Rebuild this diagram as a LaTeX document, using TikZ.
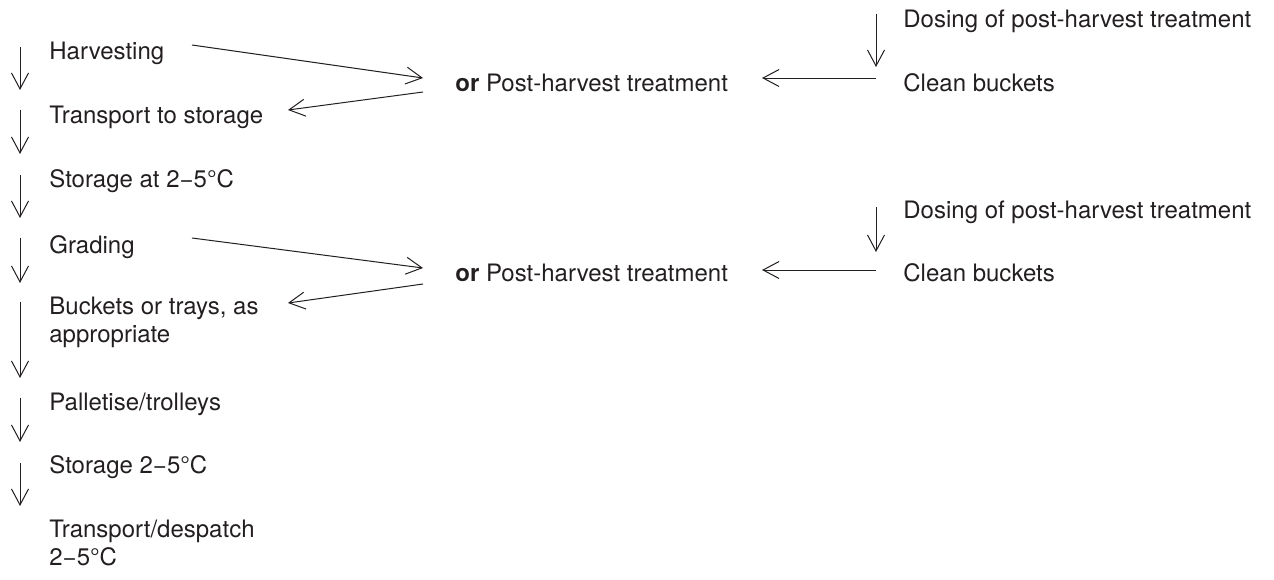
\documentclass[tikz,border=0pt]{standalone}
\usepackage{fontspec}
\setmainfont{TeX Gyre Heros}
\usetikzlibrary{arrows.meta}
\definecolor{ink}{RGB}{35,31,32}
\newcommand{\rng}{2\symbol{"2212}5°C}
\begin{document}
\begin{tikzpicture}[x=0.5pt,y=-0.5pt,
  lbl/.style={anchor=base west,inner sep=0pt,align=left,text=ink,
    font=\fontsize{12}{13.75}\selectfont},
  arr/.style={draw=ink,line width=0.5pt,-{Straight Barb[length=8pt,width=8.5pt,line width=0.5pt]}}]
\useasboundingbox (0,0) rectangle (1274,579);
% left column
\node[lbl] (harv) at (49,59) {Harvesting};
\node[lbl] (trans) at (49,123) {Transport to storage};
\node[lbl] (stor1) at (49,187) {Storage at \rng};
\node[lbl] (grad) at (49,253) {Grading};
\node[lbl] (buck) at (49,342) {Buckets or trays, as\\appropriate};
\node[lbl] (pall) at (49,410) {Palletise/trolleys};
\node[lbl] (stor2) at (49,473) {Storage \rng};
\node[lbl] (desp) at (49,565) {Transport/despatch\\\rng};
% middle
\node[lbl] (pht1) at (455,91) {\textbf{or} Post-harvest treatment};
\node[lbl] (pht2) at (455,281) {\textbf{or} Post-harvest treatment};
% right
\node[lbl] (dose1) at (903,27) {Dosing of post-harvest treatment};
\node[lbl] (clean1) at (903,91) {Clean buckets};
\node[lbl] (dose2) at (903,218) {Dosing of post-harvest treatment};
\node[lbl] (clean2) at (903,281) {Clean buckets};
% left vertical arrows
\foreach \i/\a/\b in {1/47/90,2/110/154,3/175/218,4/238/283,5/302/378,6/398/442,7/463/506}{
  \coordinate (v\i s) at (20,\a);
  \coordinate (v\i e) at (20,\b);
  \draw[arr] (v\i s) -- (v\i e);
}
% group 1
\coordinate (h1) at (192,45);
\coordinate (p1in) at (423,78);
\coordinate (p1out) at (423,92);
\coordinate (t1) at (288,110);
\draw[arr] (h1) -- (p1in);
\draw[arr] (p1out) -- (t1);
\coordinate (d1s) at (876,14);
\coordinate (d1e) at (876,67);
\draw[arr] (d1s) -- (d1e);
\coordinate (c1s) at (876,78);
\coordinate (c1e) at (762,78);
\draw[arr] (c1s) -- (c1e);
% group 2
\coordinate (g2) at (192,238);
\coordinate (p2in) at (423,268);
\coordinate (p2out) at (423,284);
\coordinate (b2) at (288,303);
\draw[arr] (g2) -- (p2in);
\draw[arr] (p2out) -- (b2);
\coordinate (d2s) at (876,207);
\coordinate (d2e) at (876,252);
\draw[arr] (d2s) -- (d2e);
\coordinate (c2s) at (876,270);
\coordinate (c2e) at (762,270);
\draw[arr] (c2s) -- (c2e);
\end{tikzpicture}
\end{document}
